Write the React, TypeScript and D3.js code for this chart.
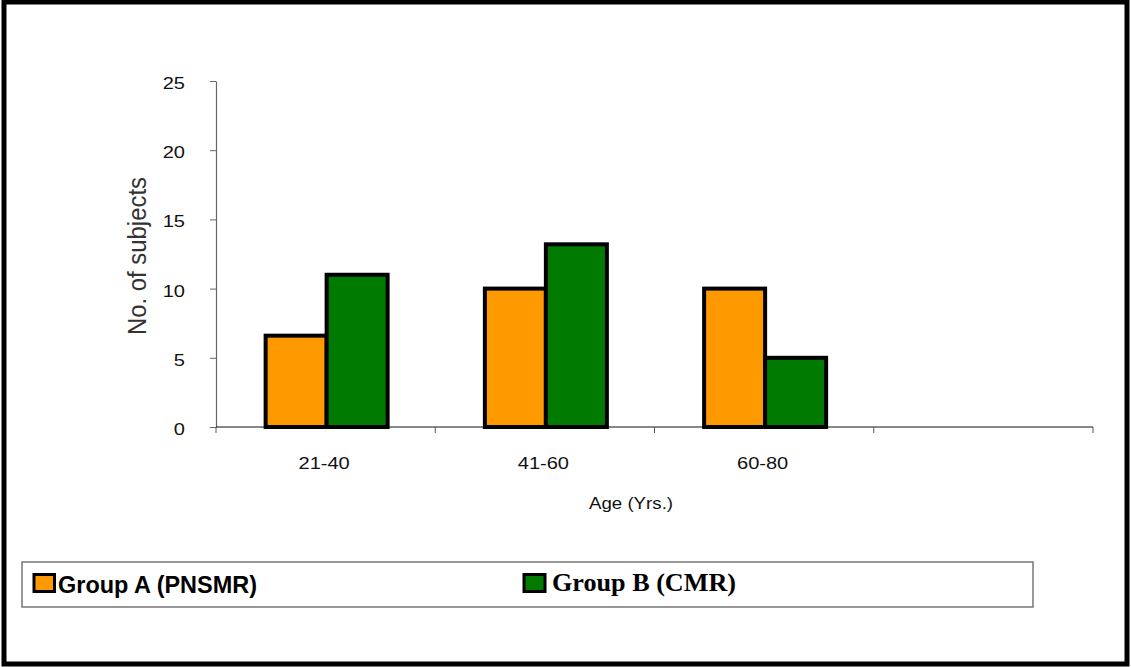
import React, { useEffect, useRef } from 'react';
import * as d3 from 'd3';

const categories = ['21-40', '41-60', '60-80', ''];
const groupA = [6.6, 10, 10];
const groupB = [11, 13.2, 5];
const seriesNames = ['Group A (PNSMR)', 'Group B (CMR)'];
const colors = ['#ff9900', '#007a00'];
const yTicks = [0, 5, 10, 15, 20, 25];

const SANS = 'Liberation Sans, Arial, sans-serif';

const App = () => {
  const svgRef = useRef(null);

  useEffect(() => {
    const svg = d3.select(svgRef.current);
    svg.selectAll('*').remove();

    const W = 1131, H = 667;
    const left = 216, right = 1093, top = 81, bottom = 427;

    // stretched text helper (the original labels are a bit wide)
    const label = (parent, x, y, txt, size, anchor, sx = 1.18) =>
      parent.append('text')
        .attr('transform', `translate(${x},${y}) scale(${sx},1)`)
        .attr('text-anchor', anchor)
        .style('font-family', SANS).style('font-size', `${size}px`)
        .attr('fill', '#111')
        .text(txt);

    // outer frame
    svg.append('rect')
      .attr('x', 4).attr('y', 2).attr('width', W - 8).attr('height', H - 5)
      .attr('fill', 'white').attr('stroke', 'black').attr('stroke-width', 5);

    const x = d3.scaleBand().domain(categories.map((c, i) => String(i))).range([left, right]).padding(0);
    const y = d3.scaleLinear().domain([0, 25]).range([bottom, top]);
    const barW = 61;

    // y axis
    const yAxis = svg.append('g').attr('transform', `translate(${left},0)`)
      .call(d3.axisLeft(y).tickValues(yTicks).tickSize(6).tickSizeOuter(0).tickFormat(() => ''));
    yAxis.select('.domain').attr('stroke', '#666').attr('stroke-width', 1.2);
    yAxis.selectAll('line').attr('stroke', '#666');
    yTicks.forEach(t => label(svg, 185, y(t) + 8, String(t), 17, 'end'));

    // x axis
    const xAxisG = svg.append('g').attr('transform', `translate(0,${bottom})`);
    xAxisG.append('line').attr('x1', left).attr('x2', right).attr('y1', 0).attr('y2', 0)
      .attr('stroke', '#111').attr('stroke-width', 1.2);
    const bounds = categories.map((c, i) => x(String(i))).concat([right]);
    xAxisG.selectAll('line.tick').data(bounds).join('line').attr('class', 'tick')
      .attr('x1', d => d).attr('x2', d => d).attr('y1', 0).attr('y2', 6)
      .attr('stroke', '#555');
    categories.forEach((c, i) => {
      if (c) label(svg, x(String(i)) + x.bandwidth() / 2 - 1.5, 469, c, 17, 'middle');
    });

    // bars
    const data = groupA.map((a, i) => ({ i, vals: [a, groupB[i]] }));
    const g = svg.append('g');
    data.forEach(d => {
      const cx = x(String(d.i)) + x.bandwidth() / 2 + 1;
      d.vals.forEach((v, k) => {
        g.append('rect')
          .attr('x', cx - barW + k * barW)
          .attr('y', y(v))
          .attr('width', barW)
          .attr('height', y(0) - y(v))
          .attr('fill', colors[k])
          .attr('stroke', 'black')
          .attr('stroke-width', 4);
      });
    });

    // axis titles
    svg.append('text')
      .attr('transform', `translate(146,256) rotate(-90)`)
      .attr('text-anchor', 'middle')
      .attr('textLength', 158).attr('lengthAdjust', 'spacingAndGlyphs')
      .style('font-family', SANS).style('font-size', '26px').attr('fill', '#333')
      .text('No. of subjects');
    label(svg, 631, 509, 'Age (Yrs.)', 17, 'middle', 1.1);

    // legend
    svg.append('rect').attr('x', 22).attr('y', 562).attr('width', 1011).attr('height', 45)
      .attr('fill', 'white').attr('stroke', '#777').attr('stroke-width', 1.5);
    svg.append('rect').attr('x', 34).attr('y', 574.5).attr('width', 20.5).attr('height', 17)
      .attr('fill', colors[0]).attr('stroke', 'black').attr('stroke-width', 3);
    svg.append('text').attr('x', 58).attr('y', 593)
      .attr('textLength', 199).attr('lengthAdjust', 'spacingAndGlyphs')
      .style('font-family', SANS).style('font-size', '24px').style('font-weight', 'bold')
      .text(seriesNames[0]);
    svg.append('rect').attr('x', 524).attr('y', 574.5).attr('width', 21).attr('height', 17)
      .attr('fill', colors[1]).attr('stroke', 'black').attr('stroke-width', 3);
    svg.append('text').attr('x', 552).attr('y', 591)
      .attr('textLength', 184).attr('lengthAdjust', 'spacingAndGlyphs')
      .style('font-family', 'Liberation Serif, Times New Roman, serif').style('font-size', '26px').style('font-weight', 'bold')
      .text(seriesNames[1]);
  }, []);

  return (
    <div style={{ position: 'absolute', left: 0, top: 0 }}>
      <svg ref={svgRef} width={1131} height={667} style={{ display: 'block' }} />
    </div>
  );
};

export default App;
